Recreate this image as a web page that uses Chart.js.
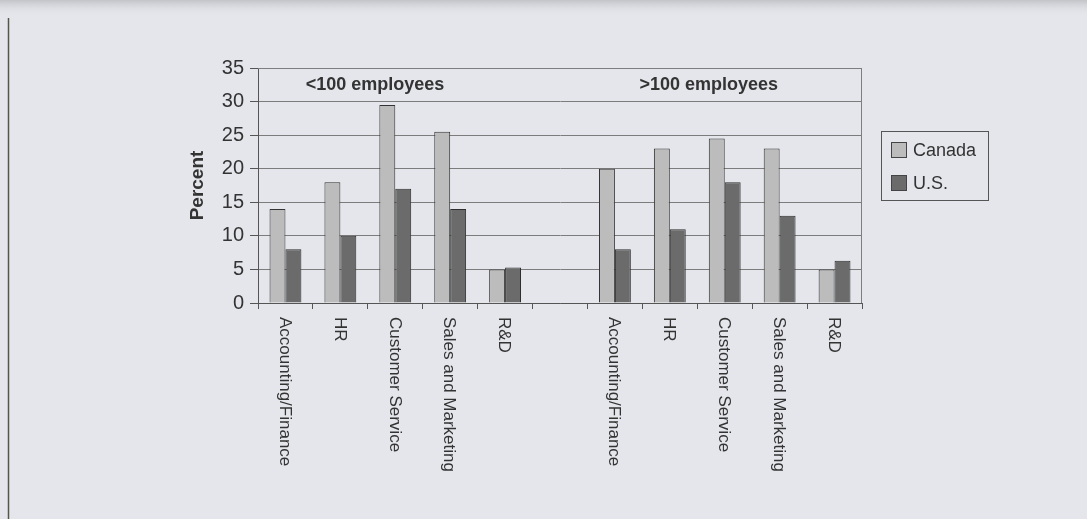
<!DOCTYPE html>
<html>
<head>
<meta charset="utf-8">
<script src="https://cdn.jsdelivr.net/npm/chart.js@4.4.1/dist/chart.umd.min.js"></script>
<style>
  html, body { margin: 0; padding: 0; background: #e4e6eb; }
  canvas { display: block; }
</style>
</head>
<body>
<canvas id="Chart" width="1087" height="519"></canvas>
<script>
// departments, two company-size groups separated by an empty slot
const categories = ['Accounting/Finance', 'HR', 'Customer Service', 'Sales and Marketing', 'R&D', '',
                    'Accounting/Finance', 'HR', 'Customer Service', 'Sales and Marketing', 'R&D'];
const canada = [14, 18, 29.5, 25.5, 5, null, 20, 23, 24.5, 23, 5];
const us = [8, 10, 17, 14, 5.3, null, 8, 11, 18, 13, 6.3];
const groupLabels = ['<100 employees', '>100 employees'];
const seriesNames = ['Canada', 'U.S.'];
const yMin = 0, yMax = 35, yStep = 5;

const FONT = '"Liberation Sans", Arial, sans-serif';
const canadaFill = '#bcbcbc';
const usFill = '#6b6b6b';

/* page background, frame and top strip */
const backdrop = {
    id: 'backdrop',
    beforeDraw(chart) {
        const ctx = chart.ctx;
        ctx.save();
        ctx.fillStyle = '#e4e6eb';
        ctx.fillRect(0, 0, chart.width, chart.height);
        const g = ctx.createLinearGradient(0, 0, 0, 16);
        g.addColorStop(0, '#c2c4c8');
        g.addColorStop(1, 'rgba(228,230,235,0)');
        ctx.fillStyle = g;
        ctx.fillRect(0, 0, chart.width, 16);
        ctx.strokeStyle = '#55564a';
        ctx.lineWidth = 1.5;
        ctx.beginPath();
        ctx.moveTo(8.5, 18);
        ctx.lineTo(8.5, chart.height);
        ctx.stroke();
        ctx.restore();
    }
};

/* rotated category labels, group captions, plot frame and legend */
const decorations = {
    id: 'decorations',
    afterDraw(chart) {
        const ctx = chart.ctx;
        const xs = chart.scales.x, ys = chart.scales.y;
        const area = chart.chartArea;
        ctx.save();

        // top and right edges of the plot box
        ctx.strokeStyle = '#7e7e7e';
        ctx.lineWidth = 1;
        ctx.beginPath();
        ctx.moveTo(area.left, area.top + 0.5);
        ctx.lineTo(area.right - 0.5, area.top + 0.5);
        ctx.lineTo(area.right - 0.5, area.bottom);
        ctx.stroke();

        // category labels reading top to bottom
        ctx.fillStyle = '#333';
        ctx.font = '17px ' + FONT;
        ctx.textAlign = 'left';
        ctx.textBaseline = 'middle';
        categories.forEach((label, i) => {
            if (!label) return;
            ctx.save();
            ctx.translate(xs.getPixelForValue(i) - 1, area.bottom + 14);
            ctx.rotate(Math.PI / 2);
            ctx.fillText(label, 0, 0);
            ctx.restore();
        });

        // group captions
        ctx.font = 'bold 18px ' + FONT;
        ctx.fillStyle = '#333';
        ctx.textAlign = 'center';
        const captionAt = [1.63, 7.71];
        groupLabels.forEach((t, i) => {
            ctx.fillText(t, xs.getPixelForValue(captionAt[i]), ys.getPixelForValue(32.4));
        });

        // legend box
        ctx.strokeStyle = '#555';
        ctx.lineWidth = 1;
        ctx.strokeRect(881.5, 131.5, 107, 69);
        const fills = [canadaFill, usFill];
        ctx.font = '18px ' + FONT;
        ctx.textAlign = 'left';
        seriesNames.forEach((name, i) => {
            const y = 142 + i * 33;
            ctx.fillStyle = fills[i];
            ctx.fillRect(891, y, 16, 16);
            ctx.strokeStyle = '#444';
            ctx.strokeRect(891.5, y + 0.5, 15, 15);
            ctx.fillStyle = '#333';
            ctx.fillText(name, 913, y + 9);
        });
        ctx.restore();
    }
};

function plotData() {
    const ctx = document.getElementById('Chart').getContext('2d');
    return new Chart(ctx, {
        type: 'bar',
        data: {
            labels: categories,
            datasets: [{
                label: seriesNames[0],
                data: canada,
                backgroundColor: canadaFill,
                borderColor: '#333',
                borderWidth: 1
            }, {
                label: seriesNames[1],
                data: us,
                backgroundColor: usFill,
                borderColor: '#2e2e2e',
                borderWidth: 1
            }]
        },
        options: {
            responsive: false,
            animation: false,
            devicePixelRatio: 1,
            categoryPercentage: 0.58,
            barPercentage: 1.0,
            layout: {
                padding: { left: 182, right: 225, top: 68, bottom: 0 }
            },
            plugins: {
                legend: { display: false },
                tooltip: { enabled: false }
            },
            scales: {
                x: {
                    afterFit: s => { s.height = 216; },
                    ticks: { display: false },
                    grid: {
                        offset: true,
                        drawOnChartArea: false,
                        drawTicks: true,
                        tickLength: 6,
                        color: '#555'
                    },
                    border: { color: '#555', width: 1 }
                },
                y: {
                    min: yMin,
                    max: yMax,
                    afterFit: s => { s.width = 76; },
                    ticks: {
                        stepSize: yStep,
                        color: '#333',
                        padding: 6,
                        font: { family: FONT, size: 20 }
                    },
                    grid: {
                        color: '#7c7c7c',
                        tickLength: 8,
                        tickColor: '#555'
                    },
                    border: { color: '#555', width: 1 },
                    title: {
                        display: true,
                        text: 'Percent',
                        color: '#333',
                        font: { family: FONT, size: 19, weight: 'bold' },
                        padding: { top: 4, bottom: 4 }
                    }
                }
            }
        },
        plugins: [backdrop, decorations]
    });
}

const myChart = plotData();
</script>
</body>
</html>
